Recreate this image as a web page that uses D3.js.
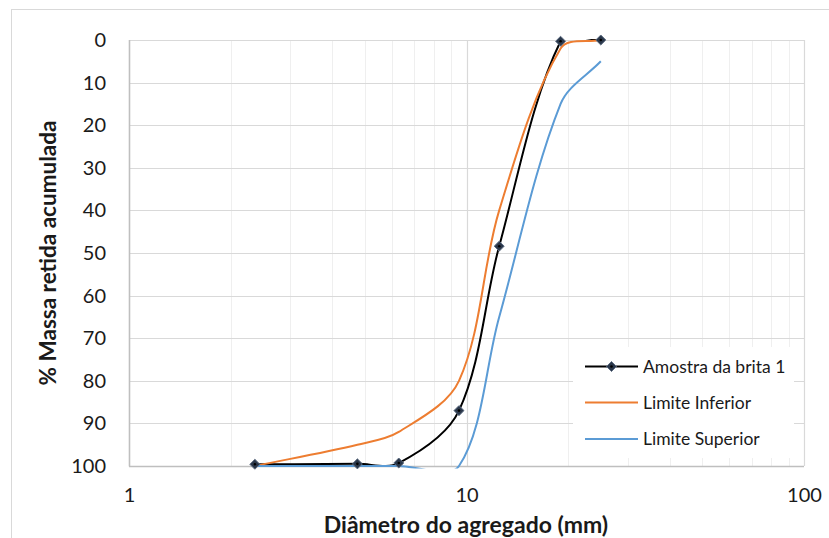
<!DOCTYPE html>
<html>
<head>
<meta charset="utf-8">
<script src="https://cdn.jsdelivr.net/npm/d3@7"></script>
<style>
  html, body { margin: 0; padding: 0; background: #fff; }
  svg { display: block; font-family: Lato, "Open Sans", sans-serif; }
</style>
</head>
<body>
<svg id="chart" width="829" height="538"></svg>
<script>
// Peneiras (mm) e porcentagens retidas acumuladas
const sieves = [2.36, 4.75, 6.3, 9.5, 12.5, 19, 25];
const amostra = [99.6, 99.5, 99.3, 87, 48.4, 0.3, 0];
const limiteInferior = [100, 95, 92, 80, 40, 2, 0];
const limiteSuperior = [100, 100, 100, 100, 65, 15, 5];

const seriesNames = ["Amostra da brita 1", "Limite Inferior", "Limite Superior"];
const xTicks = [1, 10, 100];
const yTicks = [0, 10, 20, 30, 40, 50, 60, 70, 80, 90, 100];
const xTitle = "Diâmetro do agregado (mm)";
const yTitle = "% Massa retida acumulada";

const svg = d3.select("#chart");
const W = 829, H = 538;
const plot = { left: 129, top: 40, right: 804, bottom: 466 };

// Curva suavizada: Bézier cúbica com tangentes ponderadas pelo comprimento das cordas
function smoothCurve(context) {
  let pts = [];
  return {
    areaStart() {}, areaEnd() {},
    lineStart() { pts = []; },
    point(px, py) { pts.push([+px, +py]); },
    lineEnd() {
      if (!pts.length) return;
      context.moveTo(pts[0][0], pts[0][1]);
      const dist = (a, b) => Math.hypot(b[0] - a[0], b[1] - a[1]);
      for (let i = 0; i < pts.length - 1; i++) {
        const p0 = pts[i - 1] || pts[i], p1 = pts[i], p2 = pts[i + 1], p3 = pts[i + 2] || pts[i + 1];
        const d01 = dist(p0, p1), d12 = dist(p1, p2), d23 = dist(p2, p3);
        const f1 = d01 + d12 > 0 ? d12 / (d01 + d12) / 3 : 0;
        const f2 = d12 + d23 > 0 ? d12 / (d12 + d23) / 3 : 0;
        context.bezierCurveTo(
          p1[0] + (p2[0] - p0[0]) * f1, p1[1] + (p2[1] - p0[1]) * f1,
          p2[0] - (p3[0] - p1[0]) * f2, p2[1] - (p3[1] - p1[1]) * f2,
          p2[0], p2[1]);
      }
    }
  };
}

// moldura da área do gráfico
svg.append("rect")
  .attr("x", 11.5).attr("y", 9.5)
  .attr("width", W + 10).attr("height", H + 10)
  .attr("fill", "#fff").attr("stroke", "#d9d9d9").attr("stroke-width", 1);

const x = d3.scaleLog().domain([1, 100]).range([plot.left, plot.right]);
const y = d3.scaleLinear().domain([0, 100]).range([plot.top, plot.bottom]);

// linhas de grade secundárias (2..9, 20..90)
const minor = [];
for (let d = 1; d < 100; d *= 10) for (let k = 2; k <= 9; k++) minor.push(d * k);
svg.append("g").selectAll("line").data(minor).join("line")
  .attr("x1", d => Math.round(x(d)) + 0.5).attr("x2", d => Math.round(x(d)) + 0.5)
  .attr("y1", plot.top).attr("y2", plot.bottom)
  .attr("stroke", "#efefef").attr("stroke-width", 1);

// linhas de grade principais
svg.append("g").selectAll("line").data(yTicks).join("line")
  .attr("x1", plot.left).attr("x2", plot.right)
  .attr("y1", d => Math.round(y(d)) + 0.5).attr("y2", d => Math.round(y(d)) + 0.5)
  .attr("stroke", "#d9d9d9").attr("stroke-width", 1.2);
svg.append("g").selectAll("line").data(xTicks).join("line")
  .attr("x1", d => Math.round(x(d)) + 0.5).attr("x2", d => Math.round(x(d)) + 0.5)
  .attr("y1", plot.top).attr("y2", plot.bottom)
  .attr("stroke", "#d9d9d9").attr("stroke-width", 1.2);

// eixos
svg.append("line")
  .attr("x1", plot.left + 0.5).attr("x2", plot.left + 0.5)
  .attr("y1", plot.top).attr("y2", plot.bottom + 0.5)
  .attr("stroke", "#bfbfbf").attr("stroke-width", 1.5);
svg.append("line")
  .attr("x1", plot.left).attr("x2", plot.right)
  .attr("y1", plot.bottom + 0.5).attr("y2", plot.bottom + 0.5)
  .attr("stroke", "#bfbfbf").attr("stroke-width", 1.5);

// rótulos dos eixos
const yAxis = d3.axisLeft(y).tickValues(yTicks).tickSize(0).tickPadding(0);
const gy = svg.append("g").attr("transform", `translate(${plot.left - 23},0)`).call(yAxis);
gy.select(".domain").remove();
gy.selectAll("text").attr("font-size", 20).attr("fill", "#1a1a1a")
  .attr("font-family", "Lato, sans-serif");

const xAxis = d3.axisBottom(x).tickValues(xTicks).tickFormat(d3.format("d")).tickSize(0).tickPadding(0);
const gx = svg.append("g").attr("transform", `translate(0,${plot.bottom + 22})`).call(xAxis);
gx.select(".domain").remove();
gx.selectAll("text").attr("font-size", 20).attr("fill", "#1a1a1a")
  .attr("font-family", "Lato, sans-serif");

svg.append("text")
  .attr("x", 466).attr("y", 533)
  .attr("text-anchor", "middle").attr("font-size", 23).attr("font-weight", "bold")
  .attr("fill", "#1a1a1a").text(xTitle);

svg.append("text")
  .attr("transform", `translate(56,${(plot.top + plot.bottom) / 2}) rotate(-90)`)
  .attr("text-anchor", "middle").attr("font-size", 22.5).attr("font-weight", "bold")
  .attr("fill", "#1a1a1a").text(yTitle);

// séries (área de recorte ligeiramente maior que a área de plotagem)
svg.append("clipPath").attr("id", "clip").append("rect")
  .attr("x", plot.left - 5).attr("y", plot.top - 1)
  .attr("width", plot.right - plot.left + 10).attr("height", plot.bottom - plot.top + 3.5);

const line = d3.line()
  .x(d => x(d[0])).y(d => y(d[1]))
  .curve(smoothCurve);

const pts = vals => sieves.map((s, i) => [s, vals[i]]);
const gSeries = svg.append("g").attr("clip-path", "url(#clip)");

gSeries.append("path").datum(pts(amostra))
  .attr("d", line).attr("fill", "none").attr("stroke", "#000").attr("stroke-width", 2);
gSeries.append("path").datum(pts(limiteInferior))
  .attr("d", line).attr("fill", "none").attr("stroke", "#ed7d31").attr("stroke-width", 2);
gSeries.append("path").datum(pts(limiteSuperior))
  .attr("d", line).attr("fill", "none").attr("stroke", "#5b9bd5").attr("stroke-width", 2);

const diamond = d3.symbol().type(d3.symbolDiamond2).size(64);
svg.append("g").selectAll("path").data(pts(amostra)).join("path")
  .attr("transform", d => `translate(${x(d[0])},${y(d[1])})`)
  .attr("d", diamond)
  .attr("fill", "#2a374a").attr("stroke", "#5e6d82").attr("stroke-width", 1);
svg.append("g").selectAll("circle").data(pts(amostra)).join("circle")
  .attr("cx", d => x(d[0])).attr("cy", d => y(d[1])).attr("r", 1.3).attr("fill", "#000");

// legenda
const legend = svg.append("g");
legend.append("rect").attr("x", 573).attr("y", 347).attr("width", 221).attr("height", 111)
  .attr("fill", "#fff");
const legendColors = ["#000", "#ed7d31", "#5b9bd5"];
const legendY = [366.5, 402.5, 439];
seriesNames.forEach((name, i) => {
  legend.append("line").attr("x1", 585).attr("x2", 638)
    .attr("y1", legendY[i]).attr("y2", legendY[i])
    .attr("stroke", legendColors[i]).attr("stroke-width", 2);
  if (i === 0) {
    legend.append("path").attr("transform", `translate(611.5,${legendY[i]})`)
      .attr("d", diamond).attr("fill", "#2a374a").attr("stroke", "#5e6d82").attr("stroke-width", 1);
    legend.append("circle").attr("cx", 611.5).attr("cy", legendY[i]).attr("r", 1.3).attr("fill", "#000");
  }
  legend.append("text").attr("x", 643).attr("y", legendY[i]).attr("dy", "0.35em")
    .attr("font-size", 17.5).attr("fill", "#1a1a1a").text(name);
});
</script>
</body>
</html>
